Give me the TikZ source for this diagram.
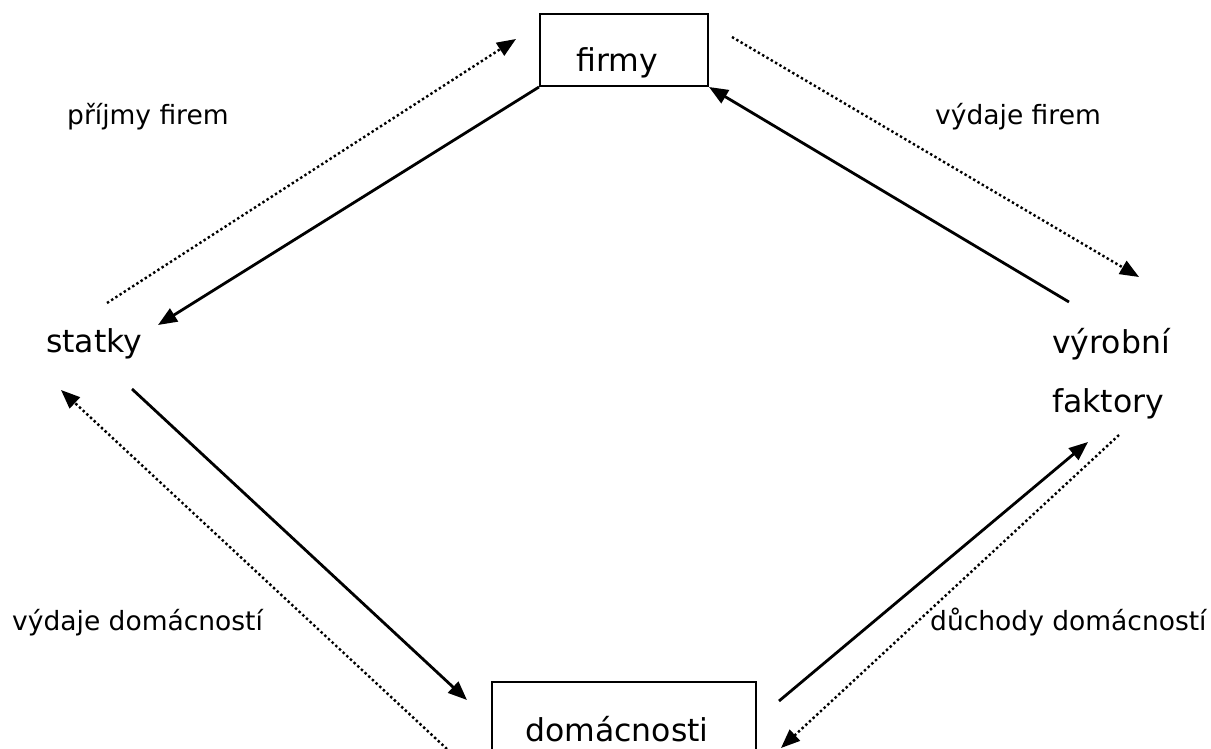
\documentclass[tikz,border=0pt]{standalone}
\usepackage{fontspec}
\setmainfont{DejaVu Sans}
\usetikzlibrary{arrows.meta}
\tikzset{
  bigtext/.style={inner sep=0pt, anchor=base west, font=\fontsize{31.5}{37}\selectfont},
  smalltext/.style={inner sep=0pt, anchor=base west, font=\fontsize{26.5}{32}\selectfont},
  sectorbox/.style={draw, line width=2pt, inner sep=0pt},
  goodsflow/.style={line width=2.8pt, -{Triangle[length=19pt,width=15pt]}},
  moneyflow/.style={line width=2.4pt, dash pattern=on 2.4pt off 2.6pt, -{Triangle[length=19pt,width=15pt]}}
}
\begin{document}
\begin{tikzpicture}[x=1pt,y=-1pt]
\useasboundingbox (0,0) rectangle (1211,749);
\clip (0,0) rectangle (1211,749);

% sector boxes
\node[sectorbox, minimum width=168pt, minimum height=72pt] (firmy) at (624,50) {};
\node[sectorbox, minimum width=264pt, minimum height=90pt] (dom) at (624,727) {};

% labels
\node[bigtext] (tfirmy) at (576,72) {firmy};
\node[bigtext] (tdom) at (525,741) {domácnosti};
\node[bigtext] (statky) at (46,352) {statky};
\node[bigtext] (vyrobni) at (1052,353) {výrobní};
\node[bigtext] (faktory) at (1052,412) {faktory};
\node[smalltext] (prijmy) at (67,125) {příjmy firem};
\node[smalltext] (vydajef) at (935,125) {výdaje firem};
\node[smalltext] (vydajed) at (12,630) {výdaje domácností};
\node[smalltext] (duchody) at (930,630) {důchody domácností};

% end points of the flows
\coordinate (g1) at (158,325);
\coordinate (g2s) at (132,389);
\coordinate (g2e) at (467,700);
\coordinate (g3s) at (779,701);
\coordinate (g3e) at (1088,442);
\coordinate (g4s) at (1069,302);
\coordinate (m1s) at (107,303);
\coordinate (m1e) at (516,39);
\coordinate (m2s) at (732,37);
\coordinate (m2e) at (1139,277);
\coordinate (m3s) at (1119,435);
\coordinate (m3e) at (781,748);
\coordinate (m4s) at (447,749);
\coordinate (m4e) at (61,390);

% real flows
\draw[goodsflow] (firmy.south west) -- (g1);
\draw[goodsflow] (g2s) -- (g2e);
\draw[goodsflow] (g3s) -- (g3e);
\draw[goodsflow] (g4s) -- (firmy.south east);

% money flows
\draw[moneyflow] (m1s) -- (m1e);
\draw[moneyflow] (m2s) -- (m2e);
\draw[moneyflow] (m3s) -- (m3e);
\draw[moneyflow] (m4s) -- (m4e);
\end{tikzpicture}
\end{document}
